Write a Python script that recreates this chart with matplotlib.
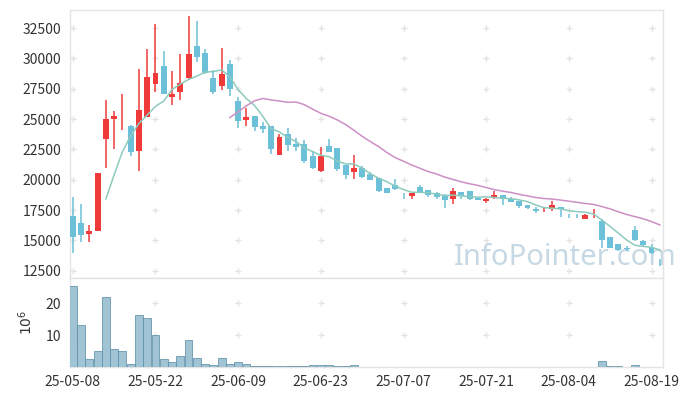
import numpy as np
import pandas as pd
import matplotlib
matplotlib.use("Agg")
import matplotlib.pyplot as plt

plt.rcParams['font.family'] = ['Noto Sans CJK KR', 'DejaVu Sans']

# trading days (KRX, 2025)
dates = ['2025-05-08', '2025-05-09', '2025-05-12', '2025-05-13', '2025-05-14', '2025-05-15',
         '2025-05-16', '2025-05-19', '2025-05-20', '2025-05-21', '2025-05-22', '2025-05-23',
         '2025-05-26', '2025-05-27', '2025-05-28', '2025-05-29', '2025-05-30', '2025-06-02',
         '2025-06-04', '2025-06-05', '2025-06-09', '2025-06-10', '2025-06-11', '2025-06-12',
         '2025-06-13', '2025-06-16', '2025-06-17', '2025-06-18', '2025-06-19', '2025-06-20',
         '2025-06-23', '2025-06-24', '2025-06-25', '2025-06-26', '2025-06-27', '2025-06-30',
         '2025-07-01', '2025-07-02', '2025-07-03', '2025-07-04', '2025-07-07', '2025-07-08',
         '2025-07-09', '2025-07-10', '2025-07-11', '2025-07-14', '2025-07-15', '2025-07-16',
         '2025-07-17', '2025-07-18', '2025-07-21', '2025-07-22', '2025-07-23', '2025-07-24',
         '2025-07-25', '2025-07-28', '2025-07-29', '2025-07-30', '2025-07-31', '2025-08-01',
         '2025-08-04', '2025-08-05', '2025-08-06', '2025-08-07', '2025-08-08', '2025-08-11',
         '2025-08-12', '2025-08-13', '2025-08-14', '2025-08-18', '2025-08-19', '2025-08-20']

opens = [17000, 16450, 15550, 15800, 23350, 25000, 24900, 24400, 22400, 25200,
         27900, 29350, 26850, 27200, 28400, 31000, 30450, 28400, 27750, 29550,
         26500, 24950, 25250, 24400, 24400, 22050, 23750, 22950, 22950, 21950,
         20750, 22800, 22600, 21200, 20650, 21000, 20450, 20150, 19300, 19600,
         18850, 18700, 19400, 19150, 18900, 18650, 18450, 18950, 19050, 18500,
         18250, 18600, 18750, 18450, 18250, 17950, 17600, 17300, 17600, 17750,
         17050, 17050, 16750, 17150, 16600, 15300, 14700, 14350, 15850, 14950,
         14450, 13250]
highs = [18600, 18000, 16250, 20550, 26600, 25650, 27100, 24500, 29100, 30750,
         32850, 30600, 28950, 30350, 33500, 33050, 30750, 29050, 30900, 29850,
         26800, 25950, 25250, 24750, 24400, 23800, 24300, 23450, 23250, 22400,
         22700, 23350, 22600, 21200, 22050, 21150, 20650, 20150, 19300, 20100,
         18900, 18900, 19600, 19150, 19000, 18850, 19300, 18950, 19050, 18500,
         18500, 19100, 18750, 18600, 18250, 17950, 17750, 17700, 18250, 17750,
         17200, 17200, 17150, 17550, 16800, 15300, 14700, 14500, 16200, 15000,
         14700, 13450]
lows = [14000, 14850, 14850, 15750, 21000, 22500, 24100, 21950, 20750, 25150,
        27200, 27100, 26200, 26550, 28200, 29700, 28700, 27100, 27400, 26900,
        24300, 24400, 24050, 23850, 22150, 22050, 22400, 22400, 21350, 20850,
        20600, 22250, 20700, 20050, 20100, 20150, 20000, 18950, 18900, 19150,
        18400, 18450, 18950, 18600, 18450, 17700, 18000, 18450, 18350, 18300,
        18050, 18400, 17950, 18150, 17700, 17550, 17250, 17300, 17400, 16900,
        16850, 16850, 16750, 16850, 14350, 14350, 14150, 14150, 14950, 14450,
        13850, 12900]
closes = [15300, 15450, 15800, 20550, 25000, 25250, 24950, 22300, 25750, 28450,
          28800, 27100, 27100, 27950, 30400, 30150, 28800, 27250, 28700, 27500,
          24850, 25150, 24350, 24200, 22500, 23500, 22850, 22700, 21550, 21000,
          21950, 22300, 20900, 20350, 21000, 20200, 20000, 19050, 18900, 19200,
          18800, 18900, 19000, 18750, 18550, 18300, 19050, 18700, 18450, 18300,
          18450, 18750, 18450, 18200, 17850, 17700, 17400, 17350, 17950, 17550,
          17000, 17000, 17100, 17200, 15050, 14400, 14200, 14300, 15000, 14650,
          13950, 13200]
# volume in millions of shares
volumes = [25.5, 13.2, 2.6, 4.9, 21.9, 5.8, 4.9, 1.05, 16.3, 15.3,
           10.0, 2.6, 1.5, 3.6, 8.4, 2.9, 0.85, 0.5, 2.7, 0.85,
           1.5, 1.1, 0.2, 0.2, 0.4, 0.4, 0.4, 0.2, 0.4, 0.7,
           0.7, 0.7, 0.2, 0.2, 0.7, 0.1, 0.05, 0.15, 0.06, 0.05,
           0.08, 0.06, 0.05, 0.07, 0.05, 0.06, 0.08, 0.05, 0.06, 0.05,
           0.07, 0.06, 0.05, 0.05, 0.06, 0.05, 0.05, 0.06, 0.07, 0.05,
           0.06, 0.05, 0.05, 0.06, 1.8, 0.2, 0.2, 0.08, 0.5, 0.08,
           0.08, 0.15]

df = pd.DataFrame({'open': opens, 'high': highs, 'low': lows, 'close': closes,
                   'volume': volumes}, index=pd.to_datetime(dates))
df['ma5'] = df['close'].rolling(5).mean()
df['ma20'] = df['close'].rolling(20).mean()

up_color = '#f03a3a'
down_color = '#6cc0d8'
grid_color = '#e3e3e3'
spine_color = '#e4e4e4'
text_color = '#333333'

x = np.arange(len(df))
up = df['close'] >= df['open']
colors = np.where(up, up_color, down_color)

fig = plt.figure(figsize=(6.91, 3.96), dpi=100)
ax = fig.add_axes([0.1006, 0.298, 0.859, 0.677])
axv = fig.add_axes([0.1006, 0.0732, 0.859, 0.2248], sharex=ax)

# candles
body_bottom = np.minimum(df['open'], df['close'])
body_height = np.maximum(np.abs(df['close'] - df['open']), 40)
ax.vlines(x, df['low'], df['high'], colors=colors, linewidth=1.1, zorder=3)
ax.bar(x, body_height, bottom=body_bottom, width=0.72, color=colors, linewidth=0, zorder=4)

ax.plot(x, df['ma5'], color='#8ccbbd', linewidth=1.1, zorder=5)
ax.plot(x, df['ma20'], color='#cc8fc6', linewidth=1.1, zorder=5)

ax.text(0.836, 0.075, 'InfoPointer.com', transform=ax.transAxes, ha='center', va='center',
        fontsize=21, color='#c6d8e4', family=['Noto Sans', 'DejaVu Sans'], zorder=2,
        clip_on=False)

# volume bars
axv.bar(x, df['volume'], width=0.95, color='#96bed0', edgecolor='#5d90a8', linewidth=0.6,
        alpha=0.9, zorder=3)

xticks = np.arange(0, len(df), 10)
yticks = np.arange(12500, 33000, 2500)
vticks = [10, 20]

ax.set_xlim(-0.4, len(df) - 0.6)
ax.set_ylim(11900, 34000)
ax.set_yticks(yticks)
ax.set_yticklabels([str(v) for v in yticks])
axv.set_ylim(0, 28)
axv.set_yticks(vticks)
axv.set_xticks(xticks)
axv.set_xticklabels([df.index[i].strftime('%y-%m-%d') for i in xticks])
axv.set_ylabel('$10^{6}$', color=text_color, fontsize=10, labelpad=8)
plt.setp(ax.get_xticklabels(), visible=False)

# "+" marks at the grid crossings
gx, gy = np.meshgrid(xticks, yticks)
ax.plot(gx.ravel(), gy.ravel(), '+', color=grid_color, markersize=5, markeredgewidth=1, zorder=1)
gx, gy = np.meshgrid(xticks, vticks)
axv.plot(gx.ravel(), gy.ravel(), '+', color=grid_color, markersize=5, markeredgewidth=1, zorder=1)

for a in (ax, axv):
    a.tick_params(length=0, labelsize=10, labelcolor=text_color, pad=6)
    for s in a.spines.values():
        s.set_color(spine_color)
        s.set_linewidth(1)

fig.savefig('out.png', dpi=100)
